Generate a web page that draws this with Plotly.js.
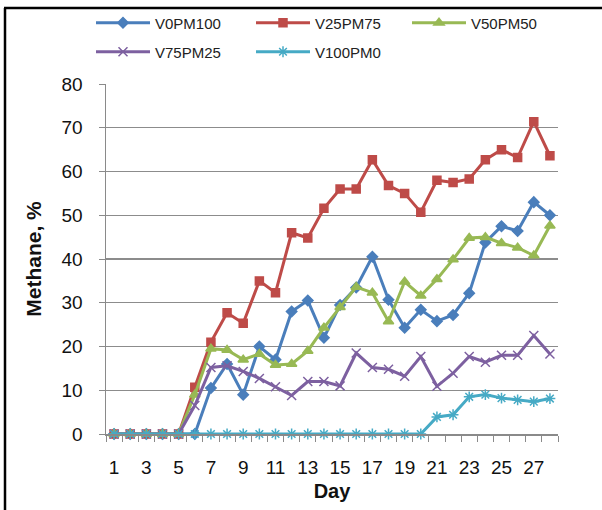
<!DOCTYPE html>
<html>
<head>
<meta charset="utf-8">
<script src="https://cdn.plot.ly/plotly-3.0.1.min.js"></script>
<style>
html,body{margin:0;padding:0;background:#fff;}
#chart{width:602px;height:510px;}
</style>
</head>
<body>
<div id="chart"></div>
<script>
var days = [1,2,3,4,5,6,7,8,9,10,11,12,13,14,15,16,17,18,19,20,21,22,23,24,25,26,27,28];
var tickDays = [1,3,5,7,9,11,13,15,17,19,21,23,25,27];
var tickLabels = ["1","3","5","7","9","11","13","15","17","19","21","23","25","27"];
var seriesNames = ["V0PM100","V25PM75","V50PM50","V75PM25","V100PM0"];

var v0pm100  = [0,0,0,0,0,0,10.5,16,9,20,17,28,30.5,22,29.5,33.5,40.5,30.7,24.3,28.4,25.8,27.2,32.2,43.8,47.5,46.4,53,50];
var v25pm75  = [0,0,0,0,0,10.7,21,27.7,25.3,35,32.3,46,44.8,51.6,56,56,62.7,56.8,55,50.7,58,57.5,58.3,62.7,65,63.2,71.4,63.6];
var v50pm50  = [0,0,0,0,0,9,19.5,19.2,17,18.3,15.8,16,19,24.3,29,33.6,32.3,25.7,34.8,31.6,35.4,39.9,44.8,45,43.6,42.6,40.8,47.6];
var v75pm25  = [0,0,0,0,0,6.5,15.2,15.6,14.3,12.7,10.8,8.8,12,12,11,18.5,15.2,14.8,13.2,17.7,10.9,13.9,17.7,16.4,18,18,22.5,18.3];
var v100pm0  = [0,0,0,0,0,0,0,0,0,0,0,0,0,0,0,0,0,0,0,0,3.9,4.4,8.5,9,8.2,7.8,7.4,8.1];

var colors = ["#4a7ebb","#be4b48","#98b954","#7d60a0","#46aac5"];
var symbols = ["diamond","square","triangle-up","x-thin-open","asterisk-open"];
var msizes = [8,8,9,9,9];
var allSeries = [v0pm100, v25pm75, v50pm50, v75pm25, v100pm0];
var legendOf = ["legend","legend","legend3","legend2","legend2"];

var traces = allSeries.map(function(ys, i){
  return {
    x: days, y: ys, name: seriesNames[i], type: "scatter", mode: "lines+markers",
    line: {color: colors[i], width: 3},
    marker: {symbol: symbols[i], size: msizes[i], color: colors[i], line: {color: colors[i], width: 1.5}},
    legend: legendOf[i],
    cliponaxis: false
  };
});

var pxX = function(px){ return (px - 106) / 452; };
var pxY = function(py){ return (434 - py) / 350; };

var legendCommon = {
  orientation: "h", xanchor: "left", yanchor: "middle",
  font: {family: "Liberation Sans, Arial, sans-serif", size: 15, color: "#222"},
  bgcolor: "rgba(0,0,0,0)", borderwidth: 0,
  entrywidth: 91, entrywidthmode: "pixels", itemwidth: 54
};

var layout = {
  width: 602, height: 510,
  margin: {l: 106, r: 44, t: 84, b: 76, pad: 0, autoexpand: false},
  paper_bgcolor: "#fff", plot_bgcolor: "#fff",
  showlegend: true,
  legend: Object.assign({}, legendCommon, {x: pxX(91), y: pxY(23)}),
  legend2: Object.assign({}, legendCommon, {x: pxX(91), y: pxY(52)}),
  legend3: Object.assign({}, legendCommon, {x: pxX(91 + 316), y: pxY(23)}),
  xaxis: {
    range: [0.5, 28.5], tickmode: "array", tickvals: tickDays, ticktext: tickLabels,
    ticks: "", showgrid: false, zeroline: false,
    showline: true, linecolor: "#8a8a8a", linewidth: 1.5,
    tickfont: {family: "Liberation Sans, Arial, sans-serif", size: 19, color: "#111"},
    ticklabelstandoff: 16,
    minor: {tickmode: "linear", tick0: 0.5, dtick: 1, ticks: "outside", ticklen: 6, tickcolor: "#8a8a8a", tickwidth: 1, showgrid: false},
    title: {text: "Day", font: {family: "Liberation Sans, Arial, sans-serif", size: 20, color: "#111", weight: "bold"}, standoff: 6}
  },
  yaxis: {
    range: [0, 80], tickmode: "linear", tick0: 0, dtick: 10,
    ticks: "outside", ticklen: 6, tickcolor: "#8a8a8a", tickwidth: 1,
    showgrid: true, gridcolor: "#8c8c8c", gridwidth: 1.2, zeroline: false,
    showline: true, linecolor: "#8a8a8a", linewidth: 1.5,
    tickfont: {family: "Liberation Sans, Arial, sans-serif", size: 19, color: "#111"},
    ticklabelstandoff: 12,
    title: {text: "Methane, %", font: {family: "Liberation Sans, Arial, sans-serif", size: 21, color: "#111", weight: "bold"}, standoff: 14}
  },
  shapes: [
    {type: "line", xref: "paper", yref: "paper", x0: pxX(5), x1: pxX(5), y0: pxY(8), y1: pxY(512), line: {color: "#000", width: 2.5}},
    {type: "line", xref: "paper", yref: "paper", x0: pxX(4), x1: pxX(602), y0: pxY(8), y1: pxY(8), line: {color: "#000", width: 2.5}}
  ]
};

Plotly.newPlot("chart", traces, layout, {displayModeBar: false, staticPlot: true});
</script>
</body>
</html>
